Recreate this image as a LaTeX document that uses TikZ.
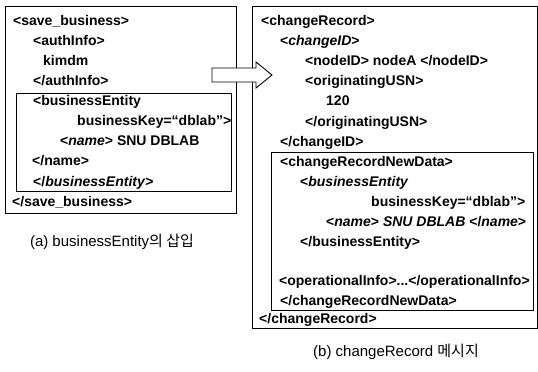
\documentclass[tikz,border=0pt]{standalone}
\usepackage{fontspec}
\setmainfont{Liberation Sans}
\newfontfamily\krfont{Noto Sans CJK KR}
\tikzset{
  xml/.style={anchor=base west, inner sep=0pt, font=\fontsize{14}{16}\selectfont\bfseries},
  captext/.style={anchor=center, inner sep=0pt, font=\fontsize{15}{17}\selectfont},
  frame/.style={draw=black, line width=0.9pt},
  bigarrow/.style={draw=black, fill=white, line width=0.9pt, line join=miter}
}
\begin{document}
\begin{tikzpicture}[x=1pt,y=-1pt]
\useasboundingbox (0,0) rectangle (538,372);
% left outer / inner boxes
\draw[frame] (5,6) rectangle (236,213);
\draw[frame] (16,93) rectangle (231,191);
% right outer / inner boxes
\draw[frame] (252,6) rectangle (537,328);
\draw[frame] (271,152) rectangle (533,310);
% arrow
\draw[bigarrow] (212,68) -- (256,68) -- (256,62) -- (272,75) -- (256,88) -- (256,82) -- (212,82) -- cycle;
% left text
\node[xml] (a1) at (13,25.2) {<save\_business>};
\node[xml] (a2) at (33,45.3) {<authInfo>};
\node[xml] (a3) at (43,65.4) {kimdm};
\node[xml] (a4) at (33,85.5) {</authInfo>};
\node[xml] (a5) at (33,105.6) {<businessEntity};
\node[xml] (a6) at (77,125.7) {businessKey=“dblab”>};
\node[xml] (a7) at (60,145.8) {<\textit{name}> SNU DBLAB};
\node[xml] (a8) at (32,165.9) {</name>};
\node[xml] (a9) at (33,186) {</\textit{businessEntity}>};
\node[xml] (a10) at (12,206) {</save\_business>};
\node[captext] (capa) at (112,242) {(a) businessEntity{\krfont 의 삽입}};
% right text
\node[xml] (b1) at (261,25.5) {<changeRecord>};
\node[xml] (b2) at (280,45.6) {<\textit{changeID}>};
\node[xml] (b3) at (305,65.7) {<nodeID> nodeA </nodeID>};
\node[xml] (b4) at (305,85.8) {<originatingUSN>};
\node[xml] (b5) at (326,105.9) {120};
\node[xml] (b6) at (305,126) {</originatingUSN>};
\node[xml] (b7) at (280,146.1) {</changeID>};
\node[xml] (b8) at (280,166.2) {<changeRecordNewData>};
\node[xml] (b9) at (300,186.3) {<\textit{businessEntity}};
\node[xml] (b10) at (371,206.4) {businessKey=“dblab”>};
\node[xml] (b11) at (326,226.5) {<\textit{name}> \textit{SNU DBLAB} </\textit{name}>};
\node[xml] (b12) at (300,246.6) {</businessEntity>};
\node[xml] (b13) at (279,285) {<operationalInfo>...</operationalInfo>};
\node[xml] (b14) at (280,305) {</changeRecordNewData>};
\node[xml] (b15) at (259,323.5) {</changeRecord>};
\node[captext] (capb) at (396,352) {(b) changeRecord {\krfont 메시지}};
\end{tikzpicture}
\end{document}
